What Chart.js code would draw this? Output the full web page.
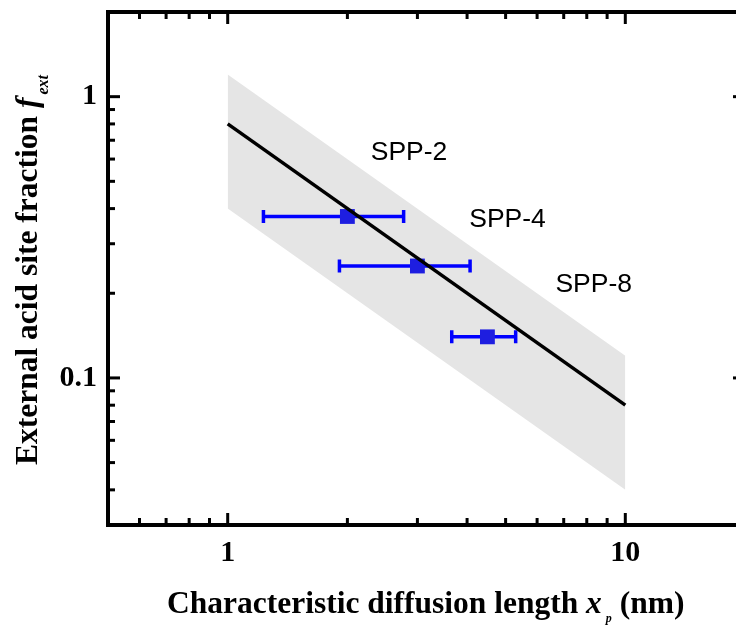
<!DOCTYPE html>
<html><head><meta charset="utf-8">
<script src="https://cdn.jsdelivr.net/npm/chart.js@4.4.0/dist/chart.umd.min.js"></script>
<style>html,body{margin:0;padding:0;overflow:hidden;background:#fff}#wrap{width:760px;height:626px}</style>
</head><body><div id="wrap"><canvas id="c" width="760" height="626"></canvas></div>
<script>
// ---- data ----
const sampleNames = ['SPP-2', 'SPP-4', 'SPP-8'];
const xValues = [2.0, 3.0, 4.5];
const yValues = [0.375, 0.25, 0.14];
const xErrLow = [1.23, 1.91, 3.66];
const xErrHigh = [2.77, 4.07, 5.30];
const fitX = [1, 10];
const fitY = [0.8, 0.08];
const bandUpper = [1.2, 0.12];
const bandLower = [0.4, 0.04];
const labelX = [2.29, 4.05, 6.67];
const labelY = [0.63, 0.366, 0.214];
const xMajorTicks = [1, 10];
const xTickLabels = ['1', '10'];
const xMinorTicks = [0.6, 0.7, 0.8, 0.9, 2, 3, 4, 5, 6, 7, 8, 9];
const yMajorTicks = [0.1, 1];
const yTickLabels = ['0.1', '1'];
const yMinorTicks = [0.04, 0.05, 0.06, 0.07, 0.08, 0.09, 0.2, 0.3, 0.4, 0.5, 0.6, 0.7, 0.8, 0.9];

const SERIF = '"Liberation Serif", "Times New Roman", serif';
const SANS = '"Liberation Sans", Arial, sans-serif';

const errorBarPlugin = {
  id: 'errorBars',
  beforeDatasetDraw(chart, args) {
    if (chart.data.datasets[args.index].label !== 'samples') return;
    const {ctx, scales: {x, y}} = chart;
    ctx.save();
    ctx.strokeStyle = '#0000ff';
    ctx.lineWidth = 3.5;
    xValues.forEach((v, i) => {
      const py = y.getPixelForValue(yValues[i]);
      const x1 = x.getPixelForValue(xErrLow[i]);
      const x2 = x.getPixelForValue(xErrHigh[i]);
      ctx.beginPath();
      ctx.moveTo(x1, py); ctx.lineTo(x2, py);
      ctx.moveTo(x1, py - 6.5); ctx.lineTo(x1, py + 6.5);
      ctx.moveTo(x2, py - 6.5); ctx.lineTo(x2, py + 6.5);
      ctx.stroke();
    });
    ctx.restore();
  }
};

const framePlugin = {
  id: 'frame',
  afterDraw(chart) {
    const {ctx, chartArea: a, scales: {x, y}} = chart;
    ctx.save();
    ctx.strokeStyle = '#000';
    ctx.lineWidth = 4;
    ctx.strokeRect(a.left, a.top, a.right - a.left, a.bottom - a.top);
    ctx.lineWidth = 3;
    const seg = (x1, y1, x2, y2) => { ctx.beginPath(); ctx.moveTo(x1, y1); ctx.lineTo(x2, y2); ctx.stroke(); };
    const xt = (v, len) => { const p = x.getPixelForValue(v); seg(p, a.bottom, p, a.bottom - len); seg(p, a.top, p, a.top + len); };
    const yt = (v, len) => { const p = y.getPixelForValue(v); seg(a.left, p, a.left + len, p); seg(a.right, p, a.right - len, p); };
    xMajorTicks.forEach(v => xt(v, 12));
    xMinorTicks.forEach(v => xt(v, 7));
    yMajorTicks.forEach(v => yt(v, 12));
    yMinorTicks.forEach(v => yt(v, 7));

    // sample labels
    ctx.fillStyle = '#000';
    ctx.font = '26.5px ' + SANS;
    ctx.textAlign = 'left';
    ctx.textBaseline = 'middle';
    sampleNames.forEach((n, i) => {
      ctx.fillText(n, x.getPixelForValue(labelX[i]), y.getPixelForValue(labelY[i]));
    });

    // x title
    ctx.textBaseline = 'alphabetic';
    let cx = 167;
    const by = 613;
    ctx.font = 'bold 31.5px ' + SERIF;
    const t1 = 'Characteristic diffusion length ';
    ctx.fillText(t1, cx, by); cx += ctx.measureText(t1).width;
    ctx.font = 'italic bold 31.5px ' + SERIF;
    ctx.fillText('x', cx, by); cx += ctx.measureText('x').width + 4;
    ctx.font = 'italic bold 12px ' + SERIF;
    ctx.fillText('p', cx, by + 9); cx += ctx.measureText('p').width;
    ctx.font = 'bold 31.5px ' + SERIF;
    ctx.fillText(' (nm)', cx, by);

    // y title
    ctx.translate(37, 465);
    ctx.rotate(-Math.PI / 2);
    let cy = 0;
    ctx.font = 'bold 31.5px ' + SERIF;
    const t2 = 'External acid site fraction ';
    ctx.fillText(t2, cy, 0); cy += ctx.measureText(t2).width;
    ctx.font = 'italic bold 31.5px ' + SERIF;
    ctx.fillText('f', cy, 0); cy += ctx.measureText('f').width + 3;
    ctx.font = 'italic bold 16px ' + SERIF;
    ctx.fillText('ext', cy, 11);
    ctx.restore();
  }
};

const tickFont = {family: SERIF, size: 30, weight: 'bold'};

new Chart(document.getElementById('c'), {
  type: 'line',
  data: {
    datasets: [
      {label: 'fit', data: fitX.map((v, i) => ({x: v, y: fitY[i]})), borderColor: '#000', borderWidth: 3.5, pointRadius: 0, fill: false, order: 0},
      {label: 'samples', data: xValues.map((v, i) => ({x: v, y: yValues[i]})), showLine: false, pointStyle: 'rect', pointRadius: 10.5, pointBackgroundColor: '#1e1ee0', pointBorderWidth: 0, order: 1},
      {label: 'upper', data: fitX.map((v, i) => ({x: v, y: bandUpper[i]})), borderWidth: 0, borderColor: 'rgba(0,0,0,0)', pointRadius: 0, fill: '+1', backgroundColor: '#e5e5e5', order: 3},
      {label: 'lower', data: fitX.map((v, i) => ({x: v, y: bandLower[i]})), borderWidth: 0, borderColor: 'rgba(0,0,0,0)', pointRadius: 0, fill: false, order: 4}
    ]
  },
  options: {
    responsive: false,
    animation: false,
    layout: {padding: {left: 0, right: 15, top: 12, bottom: 0}},
    plugins: {legend: {display: false}, tooltip: {enabled: false}},
    scales: {
      x: {
        type: 'logarithmic', min: 0.5, max: 20,
        grid: {display: false, drawTicks: false}, border: {display: false},
        afterBuildTicks: s => { s.ticks = xMajorTicks.map(v => ({value: v})); },
        afterFit: s => { s.height = 101; s.paddingLeft = 0; s.paddingRight = 0; },
        ticks: {autoSkip: false, maxRotation: 0, padding: 10, color: '#000', font: tickFont, callback: (v, i) => xTickLabels[i]}
      },
      y: {
        type: 'logarithmic', min: 0.03, max: 2,
        grid: {display: false, drawTicks: false}, border: {display: false},
        afterBuildTicks: s => { s.ticks = yMajorTicks.map(v => ({value: v})); },
        afterFit: s => { s.width = 108; s.paddingTop = 0; s.paddingBottom = 0; },
        ticks: {autoSkip: false, padding: 11, color: '#000', font: tickFont, callback: (v, i) => yTickLabels[i]}
      }
    }
  },
  plugins: [errorBarPlugin, framePlugin]
});
</script>
</body></html>
